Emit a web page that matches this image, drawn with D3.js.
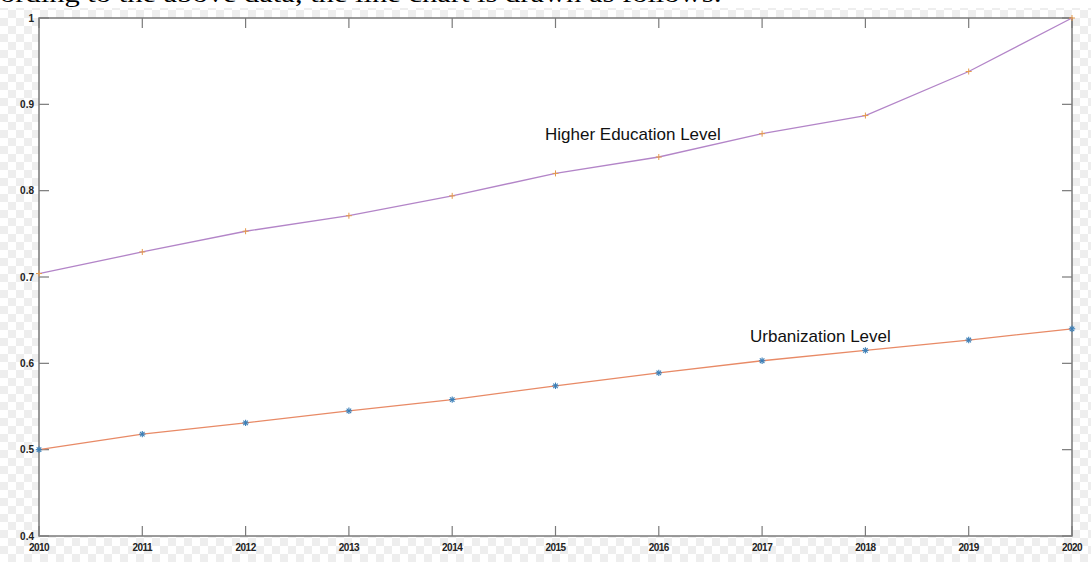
<!DOCTYPE html>
<html>
<head>
<meta charset="utf-8">
<script src="https://cdn.jsdelivr.net/npm/d3@7"></script>
<style>
  html, body { margin: 0; padding: 0; background: #fff; }
  svg { display: block; }
</style>
</head>
<body>
<svg id="chart" width="1091" height="562"></svg>
<script>
// Years on the x axis
const years = [2010, 2011, 2012, 2013, 2014, 2015, 2016, 2017, 2018, 2019, 2020];
// Normalised index series
const higherEducation = [0.704, 0.729, 0.753, 0.771, 0.794, 0.820, 0.839, 0.866, 0.887, 0.938, 1.0];
const urbanization   = [0.500, 0.518, 0.531, 0.545, 0.558, 0.574, 0.589, 0.603, 0.615, 0.627, 0.640];
// Tick values and labels
const yTicks = [0.4, 0.5, 0.6, 0.7, 0.8, 0.9, 1];
const yTickLabels = ["0.4", "0.5", "0.6", "0.7", "0.8", "0.9", "1"];
const xTickLabels = ["2010", "2011", "2012", "2013", "2014", "2015", "2016", "2017", "2018", "2019", "2020"];

const W = 1091, H = 562;
const svg = d3.select("#chart");

// checkered backdrop
const defs = svg.append("defs");
const pat = defs.append("pattern").attr("id", "checker")
  .attr("width", 16).attr("height", 16).attr("patternUnits", "userSpaceOnUse")
  .attr("x", 0).attr("y", 2);
pat.append("rect").attr("width", 16).attr("height", 16).attr("fill", "#ffffff");
pat.append("rect").attr("width", 8).attr("height", 8).attr("fill", "#eeeeee");
pat.append("rect").attr("x", 8).attr("y", 8).attr("width", 8).attr("height", 8).attr("fill", "#eeeeee");
svg.append("rect").attr("x", 0).attr("y", 8).attr("width", W).attr("height", H - 8).attr("fill", "url(#checker)");

// partially visible caption line above the figure
svg.append("text")
  .attr("x", 0).attr("y", 1.5)
  .attr("font-family", "Liberation Serif, Times New Roman, serif")
  .attr("font-size", 24)
  .attr("fill", "#000")
  .attr("textLength", 722)
  .attr("lengthAdjust", "spacingAndGlyphs")
  .text("ording to the above data, the line chart is drawn as follows:");

const m = { left: 39, top: 18, right: 1072, bottom: 536 };
const x = d3.scaleLinear().domain([2010, 2020]).range([m.left, m.right]);
const y = d3.scaleLinear().domain([0.4, 1]).range([m.bottom, m.top]);

// plot area
svg.append("rect")
  .attr("x", m.left).attr("y", m.top)
  .attr("width", m.right - m.left).attr("height", m.bottom - m.top)
  .attr("fill", "#fff");

const axisColor = "#7a7a7a";
const tickLen = 10;

// inward ticks on all four sides
const g = svg.append("g").attr("stroke", axisColor).attr("stroke-width", 1.2);
years.forEach(v => {
  g.append("line").attr("x1", x(v)).attr("x2", x(v)).attr("y1", m.bottom).attr("y2", m.bottom - tickLen);
  g.append("line").attr("x1", x(v)).attr("x2", x(v)).attr("y1", m.top).attr("y2", m.top + tickLen);
});
yTicks.forEach(v => {
  g.append("line").attr("x1", m.left).attr("x2", m.left + tickLen).attr("y1", y(v)).attr("y2", y(v));
  g.append("line").attr("x1", m.right).attr("x2", m.right - tickLen).attr("y1", y(v)).attr("y2", y(v));
});
svg.append("rect")
  .attr("x", m.left).attr("y", m.top)
  .attr("width", m.right - m.left).attr("height", m.bottom - m.top)
  .attr("fill", "none").attr("stroke", axisColor).attr("stroke-width", 1.5);

// tick labels
const labelFont = "Liberation Sans, Arial, sans-serif";
svg.append("g").selectAll("text").data(yTicks).join("text")
  .attr("x", m.left - 5).attr("y", d => y(d) + 3.5)
  .attr("text-anchor", "end")
  .attr("font-family", labelFont).attr("font-size", 10).attr("font-weight", "bold")
  .attr("fill", "#222")
  .text((d, i) => yTickLabels[i]);
svg.append("g").selectAll("text").data(years).join("text")
  .attr("x", d => x(d)).attr("y", m.bottom + 15)
  .attr("text-anchor", "middle")
  .attr("font-family", labelFont).attr("font-size", 10).attr("font-weight", "bold")
  .attr("fill", "#222")
  .attr("letter-spacing", -0.5)
  .text((d, i) => xTickLabels[i]);

// series lines
const line = d3.line().x((d, i) => x(years[i])).y(d => y(d));
svg.append("path").datum(higherEducation).attr("d", line)
  .attr("fill", "none").attr("stroke", "#b385c8").attr("stroke-width", 1.3);
svg.append("path").datum(urbanization).attr("d", line)
  .attr("fill", "none").attr("stroke", "#e88a66").attr("stroke-width", 1.3);

// '+' markers for higher education
const plus = svg.append("g").attr("stroke", "#e59a4c").attr("stroke-width", 1);
higherEducation.forEach((v, i) => {
  const cx = x(years[i]), cy = y(v);
  plus.append("line").attr("x1", cx - 3).attr("x2", cx + 3).attr("y1", cy).attr("y2", cy);
  plus.append("line").attr("x1", cx).attr("x2", cx).attr("y1", cy - 3).attr("y2", cy + 3);
});

// '*' markers for urbanization
const star = svg.append("g").attr("stroke", "#3a7fb8").attr("stroke-width", 1.1);
urbanization.forEach((v, i) => {
  const cx = x(years[i]), cy = y(v), r = 3.2;
  for (let k = 0; k < 4; k++) {
    const a = k * Math.PI / 4;
    star.append("line")
      .attr("x1", cx - r * Math.cos(a)).attr("x2", cx + r * Math.cos(a))
      .attr("y1", cy - r * Math.sin(a)).attr("y2", cy + r * Math.sin(a));
  }
});

// series annotations
svg.append("text")
  .attr("x", 545).attr("y", 140)
  .attr("font-family", labelFont).attr("font-size", 17).attr("fill", "#111")
  .text("Higher Education Level");
svg.append("text")
  .attr("x", 750).attr("y", 342)
  .attr("font-family", labelFont).attr("font-size", 17).attr("fill", "#111")
  .text("Urbanization Level");
</script>
</body>
</html>
